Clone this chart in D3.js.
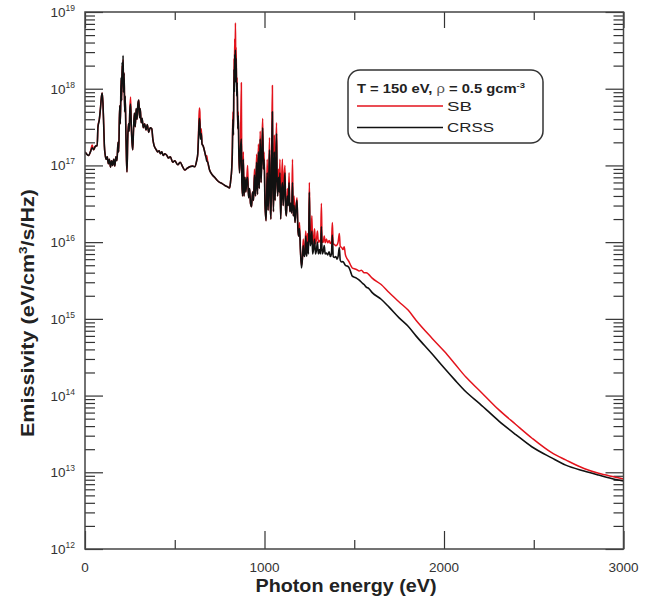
<!DOCTYPE html>
<html>
<head>
<meta charset="utf-8">
<script src="https://cdn.jsdelivr.net/npm/d3@7"></script>
<style>
body { margin: 0; background: #fff; }
text { font-family: "Liberation Sans", Arial, sans-serif; }
</style>
</head>
<body>
<script>
var width = 654, height = 606;

// photon energy grid (eV)
var energy = [
  0, 10, 20, 30, 40, 48, 56, 62, 68, 72,
  80, 86, 92, 96, 100, 104, 108, 112, 118, 124,
  130, 136, 142, 148, 154, 160, 166, 172, 178, 184,
  188, 193, 197, 201, 204, 207, 210, 212, 215, 218,
  221, 224, 228, 231, 234, 238, 242, 246, 250, 254,
  258, 262, 266, 270, 275, 280, 285, 290, 295, 300,
  304, 308, 313, 318, 325, 332, 340, 347, 355, 363,
  372, 378, 384, 390, 397, 405, 413, 420, 428, 436,
  445, 456, 465, 475, 489, 500, 517, 530, 545, 556,
  570, 583, 600, 611, 622, 628, 633, 637, 640, 643,
  648, 652, 658, 667, 673, 678, 684, 694, 708, 722,
  736, 750, 764, 778, 792, 806, 812, 817, 821, 824,
  827, 830, 832, 834, 836, 838, 840, 842, 845, 848,
  851, 854, 857, 861, 866, 871, 874, 878, 882, 886,
  891, 896, 901, 906, 911, 917, 922, 928, 933, 939,
  944, 950, 956, 961, 966, 971, 976, 981, 986, 990,
  994, 998, 1003, 1009, 1015, 1020, 1024, 1028, 1032, 1036,
  1040, 1044, 1047, 1050, 1055, 1059, 1063, 1067, 1070, 1073,
  1078, 1082, 1086, 1090, 1095, 1100, 1104, 1109, 1114, 1118,
  1122, 1127, 1132, 1137, 1141, 1146, 1151, 1156, 1160, 1165,
  1170, 1176, 1181, 1186, 1190, 1195, 1200, 1206, 1211, 1216,
  1221, 1226, 1230, 1235, 1240, 1245, 1250, 1254, 1259, 1264,
  1268, 1273, 1279, 1284, 1290, 1295, 1300, 1306, 1312, 1317,
  1321, 1327, 1333, 1338, 1345, 1352, 1360, 1367, 1373, 1378,
  1383, 1390, 1397, 1404, 1410, 1417, 1422, 1430, 1437, 1444,
  1450, 1458, 1466, 1472, 1480, 1489, 1500, 1512, 1528, 1540,
  1555, 1567, 1580, 1600, 1650, 1694, 1750, 1800, 1844, 1933,
  2000, 2060, 2122, 2200, 2306, 2400, 2489, 2600, 2678, 2780,
  2861, 2950, 3000
];

// emissivity eV/cm3/s/Hz, SB model (red)
var sb = [
  1.5e17, 1.4e17, 1.35e17, 1.5e17, 1.85e17, 1.6e17, 1.75e17, 1.8e17, 1.8e17, 3.2e17,
  4.0e17, 5.5e17, 8.0e17, 8.8e17, 6.5e17, 3.5e17, 1.8e17, 1.4e17, 1.2e17, 1.3e17,
  1.05e17, 1.2e17, 9.5e16, 1.15e17, 1.0e17, 1.2e17, 9.8e16, 1.3e17, 1.15e17, 2.0e17,
  1.5e17, 6e17, 3.5e17, 1.3e18, 7e17, 2.0e18, 1.2e18, 2.4e18, 9e17, 1.6e18,
  5e17, 8e17, 2.5e17, 1.2e17, 8.2e16, 2.2e17, 3.5e17, 2.8e17, 5.5e17, 7.8e17,
  3.2e17, 2.0e17, 1.6e17, 2.8e17, 4.8e17, 3.2e17, 5.5e17, 4.0e17, 6.4e17, 7.1e17,
  4.2e17, 5.5e17, 3.6e17, 4.1e17, 3.1e17, 3.5e17, 2.9e17, 3.4e17, 2.7e17, 3.1e17,
  3.0e17, 2.2e17, 1.85e17, 1.7e17, 1.6e17, 1.5e17, 1.55e17, 1.42e17, 1.5e17, 1.35e17,
  1.42e17, 1.35e17, 1.25e17, 1.3e17, 1.1e17, 1.15e17, 1.02e17, 1.1e17, 9.5e16, 8.7e16,
  9.2e16, 9.6e16, 9.8e16, 9.6e16, 1.15e17, 1.4e17, 3.0e17, 5.6e17, 5.0e17, 2.6e17,
  3.0e17, 1.9e17, 1.8e17, 1.5e17, 1.3e17, 1.35e17, 1.1e17, 8.7e16, 7.6e16, 7.0e16,
  6.4e16, 6.0e16, 5.8e16, 5.5e16, 5.3e16, 5.1e16, 6.5e16, 8.7e16, 1.8e17, 5e17,
  2.5e17, 2.5e18, 1.2e18, 4.5e18, 2.0e18, 7.2e18, 2.5e18, 3.5e18, 1.0e18, 1.4e18,
  3e17, 5e17, 1.5e17, 8e16, 1.6e17, 1.2e18, 6e16, 4e16, 1.5e17, 4e16,
  7e16, 4.5e16, 6.5e16, 1.0e17, 3.8e16, 5e16, 3.2e16, 2.9e16, 4.5e16, 3.5e16,
  9e16, 4e16, 1.4e17, 4.2e16, 1.9e17, 5e16, 2.8e17, 6e16, 2e17, 4.1e17,
  9e16, 1.5e17, 3e16, 1.9e16, 1.2e17, 2.6e16, 7e16, 2.3e17, 3.2e16, 2e16,
  1.6e17, 1.1e18, 6e16, 2.5e16, 2.5e17, 3.5e16, 1.3e17, 3.6e17, 7e16, 4e16,
  9e16, 4.5e16, 1.2e17, 2e16, 6e16, 1.2e17, 3e16, 7e16, 1.0e17, 2.6e16,
  2.2e16, 5e16, 3e16, 8e16, 2.5e16, 3.2e16, 2.4e16, 1.2e17, 2.2e16, 4e16,
  1.8e16, 3e16, 3.8e16, 1.5e16, 1.2e16, 1.8e16, 8e15, 5e15, 6e15, 1.1e16,
  6.5e15, 9e15, 1.4e16, 8e15, 1.3e16, 9e15, 6e16, 1.2e16, 1.2e16, 2.2e16,
  9e15, 1.1e16, 1.5e16, 9.5e15, 1.1e16, 1.4e16, 1.0e16, 1.05e16, 1.0e16, 3.2e16,
  1.0e16, 1.0e16, 1.2e16, 9.8e15, 1.1e16, 9.8e15, 1.05e16, 9.6e15, 1.0e16, 1.8e16,
  9.5e15, 9.3e15, 9.0e15, 9.2e15, 1.0e16, 1.3e16, 8.8e15, 8.5e15, 8.0e15, 8.7e15,
  7.0e15, 6.2e15, 5.8e15, 5.5e15, 5.0e15, 4.6e15, 4.5e15, 4.4e15, 4.2e15, 4.3e15,
  4.0e15, 4.0e15, 3.8e15, 3.4e15, 2.8e15, 2.2e15, 1.66e15, 1.3e15, 9.6e14, 5.6e14,
  3.8e14, 2.6e14, 1.74e14, 1.15e14, 6.5e13, 4.2e13, 2.8e13, 1.8e13, 1.45e13, 1.12e13,
  9.7e12, 8.7e12, 8.2e12
];

// emissivity, CRSS model (black)
var crss = [
  1.5e17, 1.4e17, 1.35e17, 1.5e17, 1.7e17, 1.6e17, 1.75e17, 1.8e17, 1.8e17, 3.1e17,
  4.0e17, 5.5e17, 8.0e17, 8.8e17, 6.5e17, 3.5e17, 1.8e17, 1.4e17, 1.2e17, 1.3e17,
  1.05e17, 1.2e17, 9.5e16, 1.15e17, 1.0e17, 1.2e17, 9.8e16, 1.3e17, 1.15e17, 2.0e17,
  1.5e17, 6e17, 3.5e17, 1.4e18, 7e17, 2.2e18, 1.2e18, 2.7e18, 9e17, 1.6e18,
  5e17, 8e17, 2.5e17, 1.2e17, 8.2e16, 2.2e17, 3.5e17, 2.8e17, 5.2e17, 6.3e17,
  3.2e17, 2.0e17, 1.6e17, 2.8e17, 4.8e17, 3.2e17, 5.5e17, 4.0e17, 6.4e17, 7.1e17,
  4.2e17, 5.5e17, 3.6e17, 4.1e17, 3.1e17, 3.5e17, 2.9e17, 3.4e17, 2.7e17, 3.1e17,
  3.0e17, 2.2e17, 1.85e17, 1.7e17, 1.6e17, 1.5e17, 1.55e17, 1.42e17, 1.5e17, 1.35e17,
  1.42e17, 1.35e17, 1.25e17, 1.3e17, 1.1e17, 1.15e17, 1.02e17, 1.1e17, 9.5e16, 8.7e16,
  9.2e16, 9.6e16, 9.8e16, 9.6e16, 1.15e17, 1.4e17, 2.5e17, 4.1e17, 3.5e17, 2.2e17,
  2.6e17, 1.9e17, 1.8e17, 1.5e17, 1.3e17, 1.15e17, 1.1e17, 8.7e16, 7.6e16, 7.0e16,
  6.4e16, 6.0e16, 5.8e16, 5.5e16, 5.3e16, 5.1e16, 6.5e16, 8.7e16, 1.5e17, 4e17,
  2.5e17, 1.8e18, 9e17, 2.8e18, 1.2e18, 3.2e18, 1.5e18, 2.5e18, 8e17, 1.2e18,
  3e17, 4.5e17, 1.5e17, 8e16, 1.6e17, 2.2e17, 6e16, 4e16, 1.2e17, 4e16,
  7e16, 4.5e16, 6.5e16, 7e16, 3.8e16, 5e16, 3.2e16, 2.9e16, 4.5e16, 3.5e16,
  7.5e16, 4e16, 1.1e17, 4.2e16, 1.5e17, 5e16, 2.2e17, 6e16, 1.6e17, 3.1e17,
  9e16, 1.2e17, 3e16, 1.9e16, 8e16, 2.6e16, 6e16, 1.6e17, 3.2e16, 2e16,
  1.2e17, 5e17, 6e16, 2.5e16, 1.5e17, 3.5e16, 1e17, 2.6e17, 7e16, 4e16,
  7e16, 4.5e16, 8e16, 2e16, 4.5e16, 6e16, 3e16, 5e16, 8e16, 2.6e16,
  2.2e16, 4e16, 3e16, 6e16, 2.5e16, 3.2e16, 2.4e16, 6e16, 2.2e16, 3e16,
  1.8e16, 2.8e16, 3.5e16, 1.5e16, 1.2e16, 1.5e16, 8e15, 4.6e15, 6e15, 9e15,
  6.5e15, 7e15, 1.2e16, 6.5e15, 1.0e16, 7e15, 4.5e16, 9e15, 1e16, 1.4e16,
  7e15, 8e15, 1.1e16, 7e15, 8e15, 1.0e16, 7e15, 8e15, 7e15, 1.6e16,
  7e15, 7.5e15, 9e15, 7e15, 7.2e15, 6.8e15, 7.5e15, 6.5e15, 7e15, 1.24e16,
  6.5e15, 6.3e15, 6.5e15, 6e15, 6.5e15, 8.5e15, 5.8e15, 5.5e15, 5.6e15, 5.3e15,
  5.0e15, 4.9e15, 4.8e15, 4.6e15, 4.1e15, 3.6e15, 3.5e15, 3.4e15, 3.2e15, 3.0e15,
  2.8e15, 2.6e15, 2.5e15, 2.2e15, 1.8e15, 1.42e15, 1.03e15, 8e14, 6.0e14, 3.5e14,
  2.3e14, 1.6e14, 1.12e14, 7.8e13, 4.65e13, 3.1e13, 2.15e13, 1.54e13, 1.24e13, 1.04e13,
  9.2e12, 8.1e12, 7.7e12
];

var xMajor = [0, 1000, 2000, 3000];
var xMinor = [500, 1500, 2500];
var decades = [12, 13, 14, 15, 16, 17, 18, 19];
var seriesNames = ["SB", "CRSS"];
var seriesColors = ["#e3131c", "#111111"];

var svg = d3.select("body")
            .append("svg")
            .attr("width", width)
            .attr("height", height);

var x = d3.scaleLinear().domain([0, 3000]).range([85, 623.5]);
var y = d3.scaleLog().domain([1e12, 1e19]).range([549, 12]);

// minor log ticks 2..9 in every decade
var yMinor = [];
decades.slice(0, -1).forEach(function(d) {
    for (var k = 2; k <= 9; k++) yMinor.push(k * Math.pow(10, d));
});
var yMajor = decades.map(function(d) { return Math.pow(10, d); });

function styleAxis(g) {
    g.select(".domain").remove();
    g.selectAll(".tick line").attr("stroke", "#333").attr("stroke-width", 1.2);
    g.selectAll(".tick text").remove();
}

// ticks pointing inward on all four sides
svg.append("g").attr("transform", "translate(0,549)")
   .call(d3.axisBottom(x).tickValues(xMajor).tickSize(-18)).call(styleAxis);
svg.append("g").attr("transform", "translate(0,549)")
   .call(d3.axisBottom(x).tickValues(xMinor).tickSize(-9)).call(styleAxis);
svg.append("g").attr("transform", "translate(0,12)")
   .call(d3.axisTop(x).tickValues(xMajor).tickSize(-16)).call(styleAxis);
svg.append("g").attr("transform", "translate(0,12)")
   .call(d3.axisTop(x).tickValues(xMinor).tickSize(-8)).call(styleAxis);
svg.append("g").attr("transform", "translate(85,0)")
   .call(d3.axisLeft(y).tickValues(yMajor).tickSize(-18)).call(styleAxis);
svg.append("g").attr("transform", "translate(85,0)")
   .call(d3.axisLeft(y).tickValues(yMinor).tickSize(-10)).call(styleAxis);
svg.append("g").attr("transform", "translate(623.5,0)")
   .call(d3.axisRight(y).tickValues(yMajor).tickSize(-18)).call(styleAxis);
svg.append("g").attr("transform", "translate(623.5,0)")
   .call(d3.axisRight(y).tickValues(yMinor).tickSize(-10)).call(styleAxis);

// clip + spectra
svg.append("clipPath").attr("id", "plotclip")
   .append("rect").attr("x", 85).attr("y", 12).attr("width", 538.5).attr("height", 537);

var line = d3.line()
             .curve(d3.curveMonotoneX)
             .x(function(d, i) { return x(energy[i]); })
             .y(function(d) { return y(d); });

[sb, crss].forEach(function(vals, k) {
    svg.append("path")
       .datum(vals)
       .attr("clip-path", "url(#plotclip)")
       .attr("fill", "none")
       .attr("stroke", seriesColors[k])
       .attr("stroke-width", k == 1 ? 1.6 : 1.5)
       .attr("stroke-linejoin", "round")
       .attr("d", line);
});

// frame
svg.append("rect")
   .attr("x", 85).attr("y", 12).attr("width", 538.5).attr("height", 537)
   .attr("fill", "none").attr("stroke", "#444").attr("stroke-width", 1.5);

// x tick labels
svg.selectAll(".xlab").data(xMajor).enter().append("text")
   .attr("x", function(d) { return x(d); })
   .attr("y", 572)
   .attr("text-anchor", "middle")
   .attr("font-size", 13.5)
   .attr("fill", "#333")
   .text(function(d) { return d; });

// y tick labels 10^n
var ylab = svg.selectAll(".ylab").data(decades).enter().append("text")
   .attr("x", 75)
   .attr("y", function(d) { return y(Math.pow(10, d)) + 5; })
   .attr("text-anchor", "end")
   .attr("font-size", 13.5)
   .attr("fill", "#333");
ylab.append("tspan").text("10");
ylab.append("tspan").attr("dy", -6).attr("font-size", 8.5).text(function(d) { return d; });

// axis titles (the source font runs wide, so stretch to the measured length)
svg.append("text")
   .attr("x", 346).attr("y", 592)
   .attr("text-anchor", "middle")
   .attr("font-size", 17.5).attr("font-weight", "bold").attr("fill", "#222")
   .attr("textLength", 181).attr("lengthAdjust", "spacingAndGlyphs")
   .text("Photon energy (eV)");

var yt = svg.append("text")
   .attr("transform", "translate(34,313) rotate(-90)")
   .attr("text-anchor", "middle")
   .attr("font-size", 17.5).attr("font-weight", "bold").attr("fill", "#222")
   .attr("textLength", 248).attr("lengthAdjust", "spacingAndGlyphs");
yt.append("tspan").text("Emissivity (eV/cm");
yt.append("tspan").attr("dy", -7).attr("font-size", 11).text("3");
yt.append("tspan").attr("dy", 7).text("/s/Hz)");

// legend
svg.append("rect")
   .attr("x", 348).attr("y", 70).attr("width", 195).attr("height", 73).attr("rx", 12)
   .attr("fill", "#fff").attr("stroke", "#333").attr("stroke-width", 1.5);

var lt = svg.append("text")
   .attr("x", 357).attr("y", 93)
   .attr("font-size", 12.5).attr("font-weight", "bold").attr("fill", "#222")
   .attr("textLength", 168).attr("lengthAdjust", "spacingAndGlyphs");
lt.append("tspan").text("T = 150 eV, ");
lt.append("tspan").attr("font-weight", "normal").attr("fill", "#555").text("\u03c1");
lt.append("tspan").text(" = 0.5 gcm");
lt.append("tspan").attr("dy", -5).attr("font-size", 8).text("-3");

var legendTextLen = [25, 47];
seriesNames.forEach(function(name, k) {
    var ly = 106 + k * 21.5;
    svg.append("line")
       .attr("x1", 357).attr("x2", 443).attr("y1", ly).attr("y2", ly)
       .attr("stroke", seriesColors[k]).attr("stroke-width", 1.5);
    svg.append("text")
       .attr("x", 447).attr("y", ly + 4.5)
       .attr("font-size", 12.5).attr("fill", "#222")
       .attr("textLength", legendTextLen[k]).attr("lengthAdjust", "spacingAndGlyphs")
       .text(name);
});
</script>
</body>
</html>
